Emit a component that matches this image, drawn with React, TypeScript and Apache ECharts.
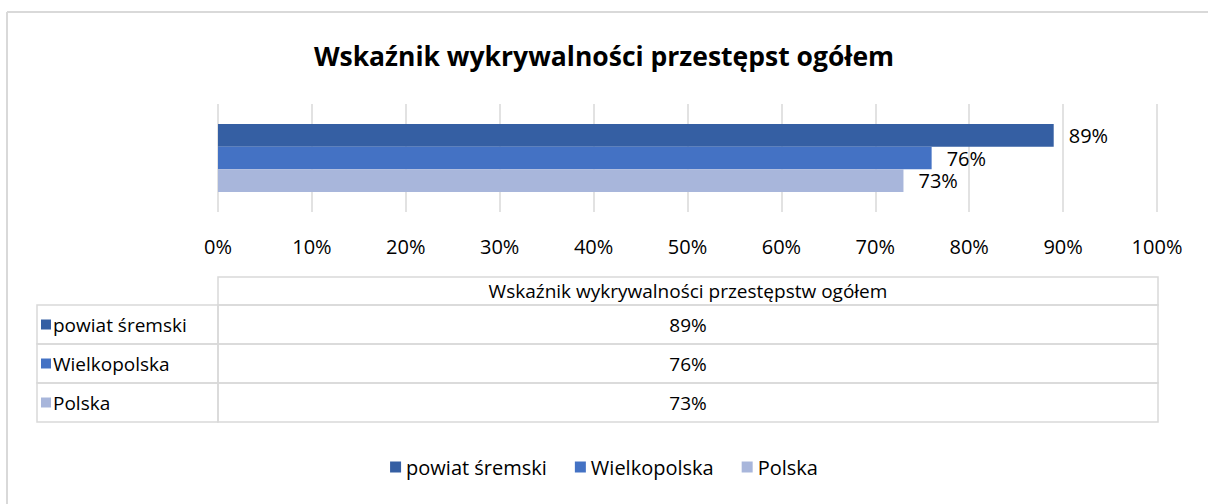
import React, { useEffect, useRef } from "react";
import * as echarts from "echarts";

const seriesNames = ["powiat śremski", "Wielkopolska", "Polska"];
const seriesValues = [89, 76, 73];
const seriesColors = ["#355FA3", "#4472C4", "#A8B6DB"];
const categoryName = "Wskaźnik wykrywalności przestępstw ogółem";
const titleText = "Wskaźnik wykrywalności przestępst ogółem";

const FONT = "'Open Sans', sans-serif";

export default function App() {
  const ref = useRef<HTMLDivElement>(null);
  useEffect(() => {
    if (!ref.current) return;
    const chart = echarts.init(ref.current, undefined, { renderer: "svg" });

    const tblL = 37, tblDiv = 218, tblR = 1158;
    const headTop = 277, headBot = 305, rowH = 39;
    const lineColor = "#D9D9D9";
    const graphics: any[] = [];
    graphics.push({ type: "line", shape: { x1: 7, y1: 12, x2: 1208, y2: 12 }, style: { stroke: lineColor, lineWidth: 2 } });
    graphics.push({ type: "line", shape: { x1: 7, y1: 12, x2: 7, y2: 504 }, style: { stroke: lineColor, lineWidth: 2 } });
    graphics.push({ type: "rect", shape: { x: tblDiv, y: headTop, width: tblR - tblDiv, height: headBot - headTop }, style: { fill: "none", stroke: lineColor, lineWidth: 1.5 } });
    graphics.push({ type: "text", x: (tblDiv + tblR) / 2, y: (headTop + headBot) / 2, style: { text: categoryName, fontSize: 19, fontFamily: FONT, fill: "#000", align: "center", verticalAlign: "middle" } });
    seriesNames.forEach((name, i) => {
      const y0 = headBot + i * rowH;
      graphics.push({ type: "rect", shape: { x: tblL, y: y0, width: tblDiv - tblL, height: rowH }, style: { fill: "none", stroke: lineColor, lineWidth: 1.5 } });
      graphics.push({ type: "rect", shape: { x: tblDiv, y: y0, width: tblR - tblDiv, height: rowH }, style: { fill: "none", stroke: lineColor, lineWidth: 1.5 } });
      graphics.push({ type: "rect", shape: { x: 41, y: y0 + rowH / 2 - 5, width: 10, height: 10 }, style: { fill: seriesColors[i] } });
      graphics.push({ type: "text", x: 53, y: y0 + rowH / 2, style: { text: name, fontSize: 19, fontFamily: FONT, fill: "#000", align: "left", verticalAlign: "middle" } });
      graphics.push({ type: "text", x: (tblDiv + tblR) / 2, y: y0 + rowH / 2, style: { text: seriesValues[i] + "%", fontSize: 19, fontFamily: FONT, fill: "#000", align: "center", verticalAlign: "middle" } });
    });

    chart.setOption({
      animation: false,
      backgroundColor: "#fff",
      title: {
        text: titleText,
        left: "center",
        top: 37,
        textStyle: { fontSize: 26.5, fontWeight: "bold", fontFamily: FONT, color: "#000" },
      },
      grid: { left: 218, right: 51, top: 104, height: 108, containLabel: false },
      xAxis: {
        type: "value",
        min: 0,
        max: 100,
        interval: 10,
        axisLine: { show: false },
        axisTick: { show: false },
        splitLine: { show: true, lineStyle: { color: lineColor, width: 1.5 } },
        axisLabel: { formatter: "{value}%", fontSize: 20, fontFamily: FONT, color: "#000", margin: 24 },
      },
      yAxis: {
        type: "category",
        data: [categoryName],
        inverse: true,
        axisLine: { show: false },
        axisTick: { show: false },
        axisLabel: { show: false },
      },
      legend: {
        data: seriesNames,
        bottom: 22,
        left: "center",
        icon: "rect",
        itemWidth: 11,
        itemHeight: 11,
        itemGap: 28,
        textStyle: { fontSize: 20, fontFamily: FONT, color: "#000" },
      },
      series: seriesNames.map((name, i) => ({
        name,
        type: "bar",
        data: [seriesValues[i]],
        barGap: "0%",
        barCategoryGap: "37%",
        itemStyle: { color: seriesColors[i] },
        label: {
          show: true,
          position: "right",
          distance: 15,
          formatter: "{c}%",
          fontSize: 20,
          fontFamily: FONT,
          color: "#000",
        },
      })),
      graphic: graphics,
    });
    return () => chart.dispose();
  }, []);
  return <div ref={ref} style={{ position: "absolute", left: 0, top: 0, width: 1208, height: 504 }} />;
}
